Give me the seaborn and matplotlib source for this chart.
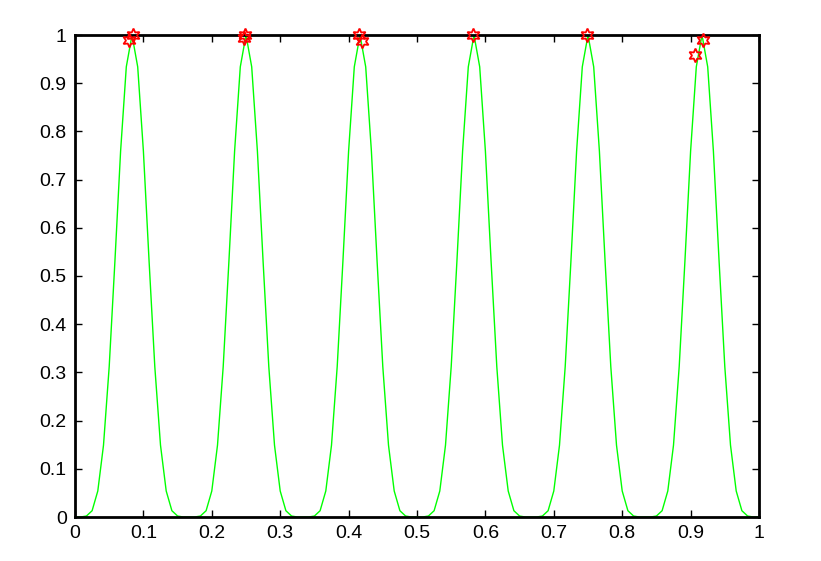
import numpy as np
import pandas as pd
import matplotlib
matplotlib.use("Agg")
import matplotlib.pyplot as plt
import seaborn as sns

# x sampled every 1/120
x_vals = [i / 120 for i in range(121)]
y_vals = [
    0, 0, 0.002, 0.013, 0.054, 0.149, 0.312, 0.530, 0.759, 0.934,
    1.0, 0.934, 0.759, 0.530, 0.312, 0.149, 0.054, 0.013, 0.002, 0,
    0, 0, 0.002, 0.013, 0.054, 0.149, 0.312, 0.530, 0.759, 0.934,
    1.0, 0.934, 0.759, 0.530, 0.312, 0.149, 0.054, 0.013, 0.002, 0,
    0, 0, 0.002, 0.013, 0.054, 0.149, 0.312, 0.530, 0.759, 0.934,
    1.0, 0.934, 0.759, 0.530, 0.312, 0.149, 0.054, 0.013, 0.002, 0,
    0, 0, 0.002, 0.013, 0.054, 0.149, 0.312, 0.530, 0.759, 0.934,
    1.0, 0.934, 0.759, 0.530, 0.312, 0.149, 0.054, 0.013, 0.002, 0,
    0, 0, 0.002, 0.013, 0.054, 0.149, 0.312, 0.530, 0.759, 0.934,
    1.0, 0.934, 0.759, 0.530, 0.312, 0.149, 0.054, 0.013, 0.002, 0,
    0, 0, 0.002, 0.013, 0.054, 0.149, 0.312, 0.530, 0.759, 0.934,
    1.0, 0.934, 0.759, 0.530, 0.312, 0.149, 0.054, 0.013, 0.002, 0,
    0,
]

# peak markers found
peak_x = [0.0794, 0.0843, 0.247, 0.249, 0.4157, 0.420, 0.5824, 0.7485, 0.9069, 0.9186]
peak_y = [0.990, 1.000, 0.993, 1.000, 1.000, 0.988, 1.000, 1.000, 0.958, 0.990]

tick_vals = [0, 0.1, 0.2, 0.3, 0.4, 0.5, 0.6, 0.7, 0.8, 0.9, 1]
tick_labels = ["0", "0.1", "0.2", "0.3", "0.4", "0.5", "0.6", "0.7", "0.8", "0.9", "1"]

sns.set_theme(style="white")
plt.rcParams["font.family"] = ["Liberation Sans", "DejaVu Sans"]

fig = plt.figure(figsize=(8.21, 5.61), dpi=100)
ax = fig.add_axes([75 / 821, 44 / 561, 684 / 821, 482 / 561])

curve = pd.DataFrame({"x": x_vals, "y": y_vals})
peaks = pd.DataFrame({"x": peak_x, "y": peak_y})

sns.lineplot(data=curve, x="x", y="y", ax=ax, color="#00ff00", linewidth=1.0)
ax.plot(peaks["x"], peaks["y"], linestyle="none", marker=(6, 1, 0),
        markersize=10, markerfacecolor="none", markeredgecolor="red",
        markeredgewidth=1.3, clip_on=False, zorder=5)

ax.set_xlim(0, 1)
ax.set_ylim(0, 1)
ax.set_xticks(tick_vals)
ax.set_xticklabels(tick_labels)
ax.set_yticks(tick_vals)
ax.set_yticklabels(tick_labels)
ax.set_xlabel("")
ax.set_ylabel("")
ax.tick_params(direction="in", length=5, width=1, colors="black",
               labelsize=14, top=True, right=True, bottom=True, left=True,
               pad=6)
for s in ax.spines.values():
    s.set_visible(True)
    s.set_color("black")
    s.set_linewidth(2)

fig.savefig("out.png", dpi=100, facecolor="white")
